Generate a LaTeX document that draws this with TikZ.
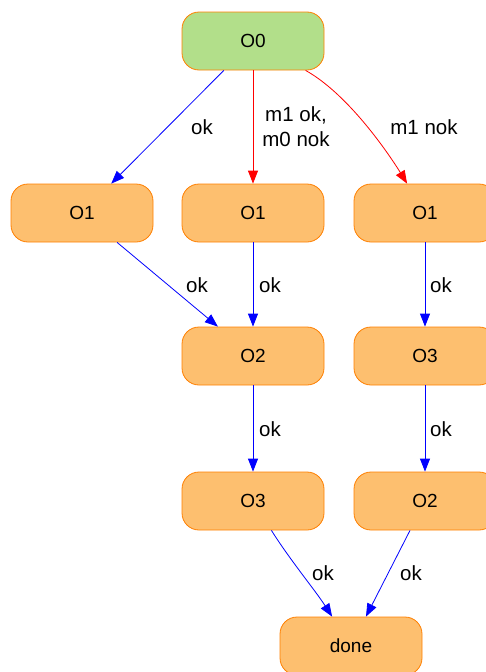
\documentclass[tikz,border=0pt]{standalone}
\usepackage{fontspec}
\setmainfont{Liberation Sans}
\usetikzlibrary{arrows.meta}
\definecolor{greenfill}{HTML}{B2DF8A}
\definecolor{orangefill}{HTML}{FDBF6F}
\definecolor{orangeline}{HTML}{FF7F00}
\begin{document}
\begin{tikzpicture}[x=1pt,y=-1pt]
\tikzset{state/.style={draw=orangeline,fill=orangefill,line width=0.8pt,rounded corners=17pt,minimum width=142pt,minimum height=58pt,inner sep=0pt,font=\fontsize{19}{22}\selectfont}}
\tikzset{startstate/.style={state,fill=greenfill}}
\tikzset{okedge/.style={draw=blue,line width=0.8pt,-{Triangle[length=13pt,width=10pt]}}}
\tikzset{nokedge/.style={okedge,draw=red}}
\tikzset{lbl/.style={inner sep=0pt,align=center,font=\fontsize{20.5}{25}\selectfont}}
\useasboundingbox (0,0) rectangle (485,672);
% States
\node[startstate] (o0) at (253,41) {O0};
\node[state] (o1a) at (82,213) {O1};
\node[state] (o1b) at (253,213) {O1};
\node[state] (o1c) at (425,213) {O1};
\node[state] (o2b) at (253,356) {O2};
\node[state] (o3c) at (425,356) {O3};
\node[state] (o3b) at (253,501) {O3};
\node[state] (o2c) at (425,501) {O2};
\node[state] (done) at (351,646) {done};

% Transitions
\draw[okedge] (o0) -- (o1a);
\draw[nokedge] (o0) -- (o1b);
\draw[nokedge] (o0) .. controls (355,98) and (400,172) .. (o1c);
\draw[okedge] (o1a) -- (o2b);
\draw[okedge] (o1b) -- (o2b);
\draw[okedge] (o1c) -- (o3c);
\draw[okedge] (o2b) -- (o3b);
\draw[okedge] (o3c) -- (o2c);
\draw[okedge] (o3b) .. controls (290,560) and (315,590) .. (done);
\draw[okedge] (o2c) -- (done);

% Labels
\node[lbl] (l1) at (202,127) {ok};
\node[lbl] (l2) at (296,127) {m1 ok,\\m0 nok};
\node[lbl] (l3) at (424,127) {m1 nok};
\node[lbl] (l4) at (197,285) {ok};
\node[lbl] (l5) at (270,285) {ok};
\node[lbl] (l6) at (441,285) {ok};
\node[lbl] (l7) at (270,429) {ok};
\node[lbl] (l8) at (441,429) {ok};
\node[lbl] (l9) at (323,573) {ok};
\node[lbl] (l10) at (411,573) {ok};
\end{tikzpicture}
\end{document}
